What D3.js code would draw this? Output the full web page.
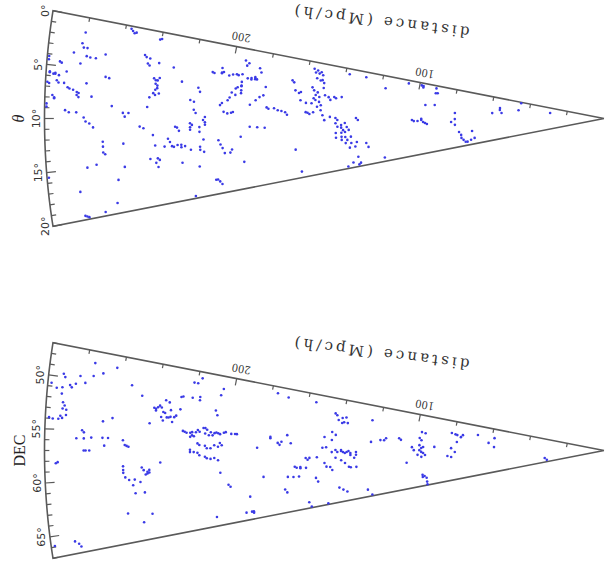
<!DOCTYPE html>
<html>
<head>
<meta charset="utf-8">
<script src="https://cdn.jsdelivr.net/npm/d3@7"></script>
<style>
body { margin: 0; background: #fff; }
</style>
</head>
<body>
<svg id="chart" width="606" height="562"></svg>
<script>

// galaxies in the theta slice: [distance (Mpc/h), theta (deg)]
var thetaGalaxies = [
	[256,0.5],[255,0.7],[254,0.6],[257,0.3],[281,1.5],[241,0.9],[240,0.8],[282,2.6],[281,3.0],[279,3.0],
	[286,3.6],[279,3.8],[277,3.9],[274,3.9],[269,3.4],[282,4.6],[293,4.6],[292,4.7],[299,4.2],[299,4.5],
	[298,5.6],[298,5.7],[296,5.8],[295,5.7],[295,5.8],[293,5.9],[299,6.6],[298,6.7],[294,6.4],[293,6.6],
	[289,5.5],[268,5.7],[266,5.8],[290,6.6],[288,7.0],[287,7.1],[285,7.2],[283,7.4],[282,7.5],[283,7.7],
	[282,7.9],[278,6.5],[296,7.8],[295,8.0],[295,8.1],[275,7.8],[299,8.6],[299,8.9],[289,9.2],[287,9.4],
	[283,9.4],[279,9.9],[264,8.7],[258,9.4],[257,9.8],[255,9.4],[278,10.3],[276,10.5],[274,10.9],[248,2.9],
	[247,3.1],[245,3.2],[246,3.8],[245,4.0],[240,3.6],[232,3.9],[227,5.5],[242,5.4],[241,5.6],[240,5.6],
	[239,5.3],[241,6.0],[240,6.2],[240,6.5],[241,6.7],[242,7.1],[241,7.3],[239,7.1],[244,7.6],[245,8.7],
	[249,10.9],[247,11.1],[242,11.9],[230,11.0],[229,11.1],[228,11.5],[222,10.6],[222,11.1],[221,10.8],[222,11.4],
	[220,8.9],[219,9.3],[222,7.7],[220,7.9],[234,12.4],[233,12.8],[232,13.3],[231,13.4],[229,13.2],[227,13.2],
	[225,13.4],[227,13.5],[241,13.1],[236,13.3],[222,13.9],[269,12.4],[269,12.9],[269,13.5],[268,13.7],[258,12.7],
	[244,14.6],[240,14.6],[241,15.1],[240,15.6],[239,14.8],[227,15.4],[278,14.9],[273,14.7],[262,16.5],[258,15.2],
	[299,15.5],[283,17.2],[264,18.9],[271,19.6],[282,19.6],[281,19.7],[280,19.8],[222,19.7],
	[194,1.7],[193,2.4],[192,2.0],[211,3.9],[210,4.0],[206,3.2],[206,3.8],[205,3.7],[206,3.9],[202,4.1],
	[200,3.9],[198,3.8],[197,3.9],[195,3.7],[192,4.2],[190,4.1],[190,4.3],[188,4.2],[187,4.2],[188,3.9],
	[186,2.5],[185,3.1],[195,4.8],[195,5.3],[197,5.6],[195,5.4],[198,5.8],[200,6.4],[201,7.1],[202,7.5],
	[195,6.0],[195,6.4],[198,6.7],[205,7.9],[206,8.2],[204,9.1],[202,9.3],[200,9.2],[199,9.1],[218,6.1],
	[217,6.6],[214,9.8],[215,10.2],[214,10.5],[214,10.8],[217,11.1],[217,11.7],[215,12.7],[217,13.6],[217,14.0],
	[215,14.3],[207,12.9],[206,13.5],[205,14.0],[204,14.7],[200,14.3],[201,14.7],[210,18.1],[208,18.4],[218,16.1],
	[195,12.6],[190,11.2],[186,11.3],[182,11.4],[194,16.2],[190,8.0],[187,7.3],[185,6.8],[183,6.5],[182,5.2],
	[177,8.4],[175,8.7],[173,8.8],[171,9.0],[170,9.4],[181,8.3],[180,8.5],[166,15.2],[164,19.0],[168,3.7],
	[167,4.0],[166,5.3],[164,5.7],[163,5.5],[163,6.9],[160,7.3],[159,9.0],[160,8.9],[156,8.9],[158,9.2],
	[157,1.2],[156,1.8],[155,1.4],[154,1.9],[153,1.6],[152,2.1],[155,2.8],[153,3.1],[152,3.0],[151,3.5],
	[157,4.5],[156,5.0],[154,5.3],[155,5.8],[153,6.1],[156,6.4],[155,6.7],[153,7.0],[152,7.6],[154,7.9],
	[152,8.5],[157,7.3],[151,4.4],[150,5.7],[148,6.0],[147,6.5],[145,5.9],[144,6.1],[141,5.8],[151,9.4],
	[150,10.3],[147,9.7],[144,9.9],[143,10.3],[144,10.9],[143,11.6],[141,11.8],[141,11.3],[139,10.9],[138,11.7],
	[140,12.3],[141,12.8],[139,12.7],[137,12.3],[141,13.6],[139,13.7],[141,14.2],[138,14.3],[136,13.7],[139,14.9],
	[136,15.0],[137,15.9],[134,15.8],[133,14.9],[133,9.9],[132,10.3],[144,12.8],[144,13.7],[133,18.0],[132,19.3],
	[136,19.0],[133,19.6],[139,19.6],[127,16.2],[128,15.3],[129,1.1],[118,2.9],[119,19.1],[209,18.1],[207,18.8],
	[138,1.1],
	[106,0.8],[99,0.7],[98,1.2],[98,0.8],[91,0.8],[91,2.3],[90,2.2],[96,6.1],[91,5.9],[103,10.4],
	[102,10.7],[100,10.7],[98,10.4],[98,10.1],[97,11.0],[96,11.3],[95,11.6],[80,8.1],[80,10.2],[82,11.2],
	[80,12.2],[78,14.8],[77,17.0],[76,17.8],[75,18.6],[74,18.7],[72,18.2],[71,14.9],[70,17.7],[77,15.9],
	[60,7.5],[56,4.8],[55,7.2],[56,5.8],[45,0.6],[46,5.0],[29,4.8]
];

// galaxies in the DEC slice: [distance (Mpc/h), DEC (deg)]
var decGalaxies = [
	[276,48.2],[264,48.3],[271,49.1],[283,49.7],[276,49.5],[292,49.7],[291,50.0],[298,50.7],[295,51.1],[292,51.0],
	[288,50.7],[287,50.9],[285,50.5],[280,50.3],[292,51.6],[255,49.9],[249,50.9],[291,52.4],[290,52.7],[291,53.0],
	[289,53.1],[292,53.7],[291,53.9],[293,54.0],[289,53.6],[298,53.9],[296,54.0],[269,54.0],[264,53.6],[280,55.0],
	[279,55.2],[283,55.8],[279,55.8],[275,55.7],[269,55.7],[266,55.7],[268,56.5],[279,57.0],[278,57.0],[276,57.0],
	[258,55.9],[257,56.4],[256,56.5],[255,56.6],[294,58.2],[293,58.1],[258,58.7],[258,59.1],[258,59.4],[257,59.9],
	[255,60.2],[248,58.9],[247,59.2],[245,59.4],[244,59.2],[244,59.5],[246,59.7],[245,59.6],[238,58.4],[253,60.8],
	[252,60.2],[249,60.5],[252,61.7],[247,61.7],[257,63.8],[249,65.0],[244,64.2],[287,65.8],[285,66.1],[284,66.4],
	[298,65.9],[222,48.5],[220,48.5],[222,50.4],[225,54.7],[222,54.8],[222,55.3],[221,55.1],[222,56.9],[222,57.2],
	[220,57.2],[220,55.2],[219,54.7],[240,52.0],[238,52.0],[239,51.8],[242,52.1],[241,52.2],[241,52.4],[237,52.5],
	[236,52.6],[235,53.1],[234,53.1],[233,53.0],[237,53.5],[238,53.1],[231,53.0],[233,52.2],[232,53.6],[236,51.1],
	[234,51.3],[228,50.5],[227,50.4],[228,52.0],[244,53.9],[230,52.8],
	[218,54.4],[217,54.6],[214,54.8],[213,54.3],[211,54.6],[209,54.7],[207,54.7],[206,54.8],[212,55.0],[210,55.0],
	[214,54.1],[215,54.1],[208,54.6],[200,54.7],[198,54.7],[197,54.7],[221,54.7],[224,54.8],[226,54.6],[204,54.6],
	[203,54.5],[218,56.1],[217,56.3],[214,56.4],[213,56.7],[211,56.7],[209,56.3],[207,56.5],[206,56.0],[205,56.3],
	[218,57.3],[217,57.6],[214,57.8],[213,58.0],[211,58.1],[209,58.0],[207,58.3],[218,50.2],[218,50.6],[207,49.6],
	[206,48.7],[209,51.7],[208,52.3],[218,47.8],[202,61.7],[201,62.0],[191,63.7],[191,65.9],[190,66.1],[190,65.9],
	[194,65.9],[210,65.8],[206,60.0],[186,56.6],[179,54.9],[179,55.1],[175,55.8],[174,56.1],[173,55.6],[170,54.5],
	[168,55.8],[177,48.0],[171,48.4],[156,48.4],[172,63.3],[171,63.8],[183,61.0],[170,61.3],[167,61.4],[164,61.4],
	[166,59.7],[165,59.9],[163,59.8],[163,60.0],[160,60.0],[160,58.3],[158,58.3],[159,58.6],[154,58.2],[151,56.5],
	[149,56.4],[146,57.3],[150,54.5],[146,55.0],[155,61.9],[154,62.6],[160,66.0],[159,66.8],[145,49.9],[144,50.2],
	[143,51.1],[141,50.6],[140,51.4],[139,50.4],[138,51.5],[141,51.6],[146,53.5],[144,54.0],[144,56.9],[143,57.3],
	[141,56.9],[141,57.1],[140,57.3],[139,57.5],[138,57.3],[137,57.1],[136,57.5],[136,57.9],[133,57.3],[133,57.9],
	[134,58.5],[144,58.4],[141,58.9],[139,59.5],[150,59.3],[149,60.0],[147,60.1],[146,60.7],[137,60.3],[136,60.4],
	[133,60.4],[143,64.2],[141,64.7],[139,65.2],[128,65.5],[126,66.7],[150,66.8],[125,50.3],[120,54.6],[118,54.6],
	[117,54.1],[125,55.1],
	[110,53.9],[109,54.3],[106,60.2],[103,56.1],[102,56.9],[99,55.5],[98,56.3],[98,57.4],[97,57.7],[96,58.3],
	[98,51.8],[96,52.0],[99,53.5],[98,54.1],[99,56.9],[100,58.2],[97,56.0],[98,58.8],[91,55.9],[98,63.9],
	[98,64.5],[97,64.3],[96,64.9],[96,66.0],[96,66.8],[82,51.1],[80,51.4],[79,51.6],[77,52.2],[79,54.0],
	[82,56.2],[80,57.5],[82,59.2],[84,58.8],[76,51.4],[68,50.7],[62,53.6],[59,51.2],[59,55.4],[32,63.5],
	[31,65.4]
];

// axes
var maxDist = 300;
var distTicks = [20, 40, 60, 80, 100, 120, 140, 160, 180, 200, 220, 240, 260, 280];
var distLabels = [100, 200];
var thetaRange = [0, 20];
var thetaLabels = [0, 5, 10, 15, 20];
var decRange = [47, 67];
var decLabels = [50, 55, 60, 65];

var svg = d3.select("#chart");

// the picture is a little stretched vertically, so x and y get their own radial scale
var rx = d3.scaleLinear().domain([0, maxDist]).range([0, 559.5]);
var ry = d3.scaleLinear().domain([0, maxDist]).range([0, 621]);

function drawWedge(opt){
	var ax = 604, ay = opt.apexY;
	var ang = d3.scaleLinear().domain(opt.range).range([-10, 10]);

	function project(r, a){
		var phi = ang(a) * Math.PI / 180;
		return [ax - rx(r) * Math.cos(phi), ay + ry(r) * Math.sin(phi)];
	}

	var g = svg.append("g");

	// outline: apex -> first edge -> outer arc -> apex
	var outline = [[ax, ay]];
	var a;
	for (a = opt.range[0]; a <= opt.range[1] + 0.001; a += 0.25){
		outline.push(project(maxDist, a));
	}
	outline.push([ax, ay]);
	g.append("path")
		.attr("d", d3.line()(outline))
		.attr("style", "fill: none; stroke: #5a5a5a; stroke-width: 1.6; stroke-linejoin: miter;");

	// angle ticks on the arc
	var angTicks = d3.range(opt.range[0], opt.range[1] + 1, 1);
	g.selectAll("line.at")
		.data(angTicks)
		.enter()
		.append("line")
		.attr("class", "at")
		.attr("x1", function(d){ return project(maxDist, d)[0]; })
		.attr("y1", function(d){ return project(maxDist, d)[1]; })
		.attr("x2", function(d){ return project(maxDist - (d % 5 == 0 ? 5 : 2.6), d)[0]; })
		.attr("y2", function(d){ return project(maxDist - (d % 5 == 0 ? 5 : 2.6), d)[1]; })
		.attr("style", "stroke: #5a5a5a; stroke-width: 1.2;");

	g.selectAll("text.al")
		.data(opt.labels)
		.enter()
		.append("text")
		.attr("class", "al")
		.attr("transform", function(d){
			var p = project(maxDist, d);
			return "translate(" + (p[0] - 8) + "," + p[1] + ") rotate(-90)";
		})
		.attr("text-anchor", "middle")
		.attr("dominant-baseline", "central")
		.attr("style", "font-family: 'DejaVu Sans', sans-serif; font-size: 11px; fill: #333;")
		.text(function(d){ return d + "°"; });

	// distance ticks along the first edge, pointing into the wedge
	var c = project(maxDist, opt.range[0]);
	var len = Math.sqrt((c[0] - ax) * (c[0] - ax) + (c[1] - ay) * (c[1] - ay));
	var ux = (c[0] - ax) / len, uy = (c[1] - ay) / len;
	var nx = -uy, ny = ux;
	if (ny < 0){ nx = -nx; ny = -ny; }

	g.selectAll("line.dt")
		.data(distTicks)
		.enter()
		.append("line")
		.attr("class", "dt")
		.attr("x1", function(d){ return project(d, opt.range[0])[0]; })
		.attr("y1", function(d){ return project(d, opt.range[0])[1]; })
		.attr("x2", function(d){ return project(d, opt.range[0])[0] + nx * (distLabels.indexOf(d) >= 0 ? 7 : 4); })
		.attr("y2", function(d){ return project(d, opt.range[0])[1] + ny * (distLabels.indexOf(d) >= 0 ? 7 : 4); })
		.attr("style", "stroke: #5a5a5a; stroke-width: 1.2;");

	g.selectAll("text.dl")
		.data(distLabels)
		.enter()
		.append("text")
		.attr("class", "dl")
		.attr("transform", function(d){
			var p = project(d, opt.range[0]);
			return "translate(" + (p[0] + 4.5) + "," + (p[1] - 10) + ") rotate(190)";
		})
		.attr("text-anchor", "middle")
		.attr("dominant-baseline", "central")
		.attr("textLength", 19)
		.attr("lengthAdjust", "spacingAndGlyphs")
		.attr("style", "font-family: 'DejaVu Serif', serif; font-size: 11px; fill: #333;")
		.text(function(d){ return d; });

	g.append("text")
		.attr("transform", "translate(" + (ax - 222) + "," + (ay - 97) + ") rotate(187)")
		.attr("text-anchor", "middle")
		.attr("dominant-baseline", "central")
		.attr("textLength", 176)
		.attr("lengthAdjust", "spacing")
		.attr("style", "font-family: 'DejaVu Serif', serif; font-size: 15px; fill: #333;")
		.text("distance (Mpc/h)");

	g.append("text")
		.attr("transform", "translate(" + opt.titleX + "," + ay + ") rotate(-90)")
		.attr("text-anchor", "middle")
		.attr("dominant-baseline", "central")
		.attr("style", "font-family: 'Liberation Serif', serif; font-size: 16px; fill: #222;" + opt.titleStyle)
		.text(opt.title);

	// galaxies
	g.selectAll("circle")
		.data(opt.points)
		.enter()
		.append("circle")
		.attr("cx", function(d){ return project(d[0], d[1])[0]; })
		.attr("cy", function(d){ return project(d[0], d[1])[1]; })
		.attr("r", 1.3)
		.attr("style", "fill: #3a3ae6;");
}

drawWedge({apexY: 118.5, range: thetaRange, labels: thetaLabels, points: thetaGalaxies,
	title: "θ", titleX: 18, titleStyle: " font-style: italic;"});
drawWedge({apexY: 450.5, range: decRange, labels: decLabels, points: decGalaxies,
	title: "DEC", titleX: 19, titleStyle: ""});

</script>
</body>
</html>
